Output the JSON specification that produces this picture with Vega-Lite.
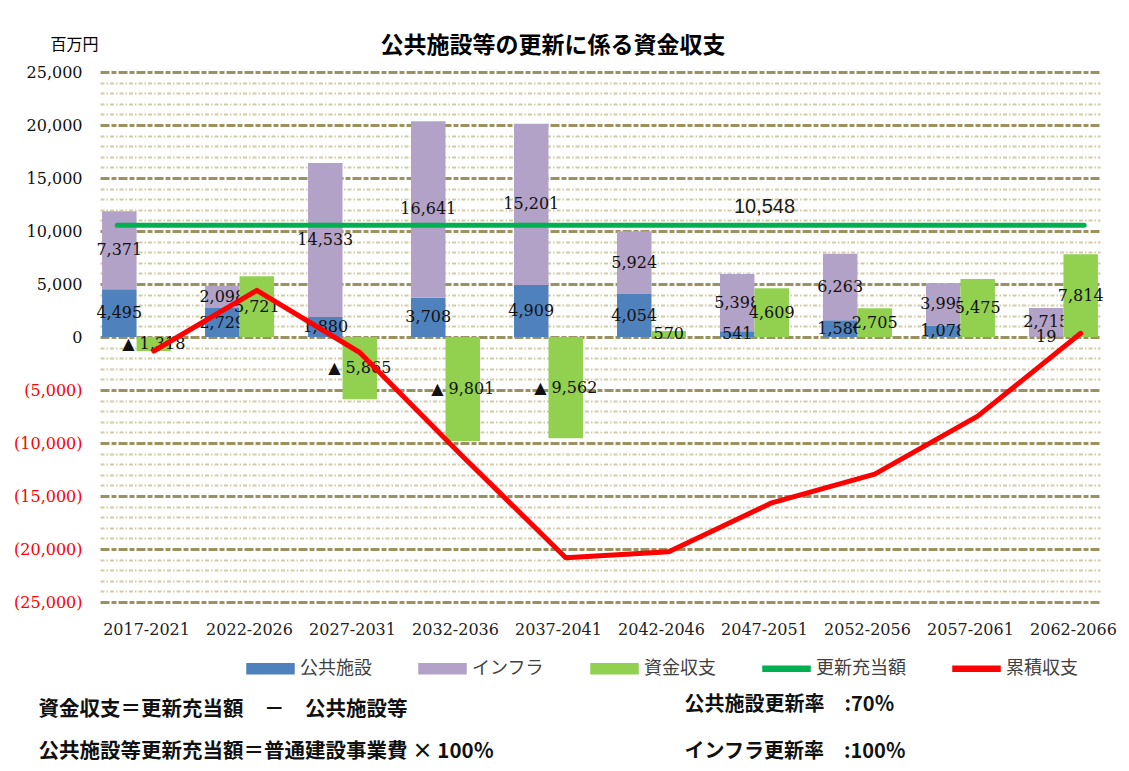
{
  "$schema": "https://vega.github.io/schema/vega-lite/v6.json",
  "width": 1000,
  "height": 530,
  "autosize": {"type": "none"},
  "padding": {"left": 100, "top": 72, "right": 29, "bottom": 169},
  "background": "white",
  "title": {
    "text": "公共施設等の更新に係る資金収支",
    "font": "Noto Sans CJK JP",
    "fontSize": 23,
    "fontWeight": "bold",
    "color": "#000000",
    "anchor": "middle",
    "dx": -47,
    "dy": 26,
    "offset": 4
  },
  "config": {
    "view": {"stroke": null},
    "axis": {"domain": false, "ticks": false, "tickSize": 0}
  },
  "datasets": {
    "costs": [
      {"period": "2017-2021", "series": "公共施設", "value": 4495},
      {"period": "2017-2021", "series": "インフラ", "value": 7371},
      {"period": "2022-2026", "series": "公共施設", "value": 2729},
      {"period": "2022-2026", "series": "インフラ", "value": 2098},
      {"period": "2027-2031", "series": "公共施設", "value": 1880},
      {"period": "2027-2031", "series": "インフラ", "value": 14533},
      {"period": "2032-2036", "series": "公共施設", "value": 3708},
      {"period": "2032-2036", "series": "インフラ", "value": 16641},
      {"period": "2037-2041", "series": "公共施設", "value": 4909},
      {"period": "2037-2041", "series": "インフラ", "value": 15201},
      {"period": "2042-2046", "series": "公共施設", "value": 4054},
      {"period": "2042-2046", "series": "インフラ", "value": 5924},
      {"period": "2047-2051", "series": "公共施設", "value": 541},
      {"period": "2047-2051", "series": "インフラ", "value": 5398},
      {"period": "2052-2056", "series": "公共施設", "value": 1580},
      {"period": "2052-2056", "series": "インフラ", "value": 6263},
      {"period": "2057-2061", "series": "公共施設", "value": 1078},
      {"period": "2057-2061", "series": "インフラ", "value": 3995},
      {"period": "2062-2066", "series": "公共施設", "value": 19},
      {"period": "2062-2066", "series": "インフラ", "value": 2715}
    ],
    "balance": [
      {"period": "2017-2021", "balance": -1318, "cumulative": -1318},
      {"period": "2022-2026", "balance": 5721, "cumulative": 4403},
      {"period": "2027-2031", "balance": -5865, "cumulative": -1462},
      {"period": "2032-2036", "balance": -9801, "cumulative": -11263},
      {"period": "2037-2041", "balance": -9562, "cumulative": -20825},
      {"period": "2042-2046", "balance": 570, "cumulative": -20255},
      {"period": "2047-2051", "balance": 4609, "cumulative": -15646},
      {"period": "2052-2056", "balance": 2705, "cumulative": -12941},
      {"period": "2057-2061", "balance": 5475, "cumulative": -7466},
      {"period": "2062-2066", "balance": 7814, "cumulative": 348}
    ],
    "renewal": [
      {"first": "2017-2021", "last": "2062-2066", "labelPeriod": "2047-2051", "amount": 10548}
    ]
  },
  "resolve": {"axis": {"y": "independent"}},
  "layer": [
    {
      "data": {"name": "costs"},
      "transform": [
        {"calculate": "datum.series === '公共施設' ? 0 : 1", "as": "rank"},
        {"stack": "value", "groupby": ["period"], "sort": [{"field": "rank"}], "as": ["y0", "y1"]}
      ],
      "mark": {"type": "bar"},
      "encoding": {
        "x": {
          "field": "period",
          "type": "nominal",
          "sort": null,
          "scale": {"type": "band", "paddingInner": 0.33, "paddingOuter": 0.02},
          "axis": {
            "labelAngle": 0,
            "labelFont": "DejaVu Serif",
            "labelFontSize": 16,
            "labelColor": "#222222",
            "labelOffset": 10,
            "labelPadding": 19,
            "grid": false,
            "title": ["資金収支＝更新充当額　－　公共施設等", "公共施設等更新充当額＝普通建設事業費 × 100％"],
            "titleFont": "Noto Sans CJK JP",
            "titleFontSize": 20.5,
            "titleFontWeight": "bold",
            "titleColor": "#111111",
            "titleAlign": "left",
            "titleBaseline": "top",
            "titleX": -62,
            "titleY": 97,
            "titleLineHeight": 42
          }
        },
        "xOffset": {"datum": "施設", "scale": {"domain": ["施設", "収支"], "paddingInner": 0, "paddingOuter": 0}},
        "y": {
          "field": "y1",
          "type": "quantitative",
          "scale": {"domain": [-25000, 25000], "nice": false},
          "axis": {
            "orient": "left",
            "values": [-25000,-24000,-23000,-22000,-21000,-20000,-19000,-18000,-17000,-16000,-15000,-14000,-13000,-12000,-11000,-10000,-9000,-8000,-7000,-6000,-5000,-4000,-3000,-2000,-1000,0,1000,2000,3000,4000,5000,6000,7000,8000,9000,10000,11000,12000,13000,14000,15000,16000,17000,18000,19000,20000,21000,22000,23000,24000,25000],
            "labelExpr": "datum.value % 5000 !== 0 ? '' : (datum.value < 0 ? '(' + format(-datum.value, ',') + ')' : format(datum.value, ','))",
            "labelFont": "DejaVu Serif",
            "labelFontSize": 16,
            "labelColor": {"condition": {"test": "datum.value < 0", "value": "#FF0000"}, "value": "#111111"},
            "labelPadding": 18,
            "grid": true,
            "gridColor": {"condition": {"test": "datum.value % 5000 === 0", "value": "#9C9160"}, "value": "#D3CBA8"},
            "gridDash": {"condition": {"test": "datum.value % 5000 === 0", "value": [9, 2, 5, 2]}, "value": [4, 2, 1.5, 2]},
            "gridWidth": {"condition": {"test": "datum.value % 5000 === 0", "value": 2.8}, "value": 2},
            "title": "百万円",
            "titleAngle": 0,
            "titleX": -26,
            "titleY": -28,
            "titleAlign": "center",
            "titleBaseline": "middle",
            "titleFont": "Noto Sans CJK JP",
            "titleFontSize": 16,
            "titleFontWeight": "normal",
            "titleColor": "#000000"
          }
        },
        "y2": {"field": "y0"},
        "color": {
          "field": "series",
          "type": "nominal",
          "scale": {
            "domain": ["公共施設", "インフラ", "資金収支", "更新充当額", "累積収支"],
            "range": ["#4F81BD", "#B3A2C7", "#92D050", "#00B050", "#FF0000"]
          },
          "legend": {
            "orient": "none",
            "legendX": 146,
            "legendY": 572,
            "direction": "horizontal",
            "columns": 5,
            "title": null,
            "padding": 0,
            "symbolSize": 2209,
            "labelFont": "Noto Sans CJK JP",
            "labelFontSize": 18,
            "labelColor": "#404040",
            "labelOffset": 5,
            "columnPadding": 44,
            "encode": {
              "symbols": {
                "update": {
                  "shape": {"signal": "(datum.value === '更新充当額' || datum.value === '累積収支') ? 'M-1,-0.11H1V0.11H-1Z' : 'M-1,-0.21H1V0.21H-1Z'"},
                  "fill": {"scale": "color", "field": "value"},
                  "stroke": {"value": "transparent"},
                  "opacity": {"value": 1},
                  "fillOpacity": {"value": 1}
                }
              }
            }
          }
        }
      }
    },
    {
      "data": {"name": "costs"},
      "transform": [
        {"calculate": "datum.series === '公共施設' ? 0 : 1", "as": "rank"},
        {"stack": "value", "groupby": ["period"], "sort": [{"field": "rank"}], "as": ["y0", "y1"]},
        {"calculate": "(datum.y0 + datum.y1) / 2", "as": "mid"}
      ],
      "mark": {"type": "text", "font": "DejaVu Serif", "fontSize": 16, "color": "#111111", "baseline": "middle", "align": "center"},
      "encoding": {
        "x": {"field": "period", "type": "nominal", "sort": null, "bandPosition": 0.25},
        "y": {"field": "mid", "type": "quantitative", "axis": null},
        "text": {"field": "value", "type": "quantitative", "format": ","}
      }
    },
    {
      "data": {"name": "balance"},
      "mark": {"type": "bar"},
      "encoding": {
        "x": {"field": "period", "type": "nominal", "sort": null},
        "xOffset": {"datum": "収支"},
        "y": {"field": "balance", "type": "quantitative", "axis": null},
        "color": {"datum": "資金収支"}
      }
    },
    {
      "data": {"name": "balance"},
      "transform": [
        {"calculate": "datum.balance / 2", "as": "mid"},
        {"calculate": "(datum.balance < 0 ? '▲ ' : '') + format(abs(datum.balance), ',')", "as": "label"}
      ],
      "mark": {"type": "text", "font": "DejaVu Serif", "fontSize": 16, "color": "#111111", "baseline": "middle", "align": "center"},
      "encoding": {
        "x": {"field": "period", "type": "nominal", "sort": null, "bandPosition": 0.75},
        "y": {"field": "mid", "type": "quantitative", "axis": null},
        "text": {"field": "label", "type": "nominal"}
      }
    },
    {
      "data": {"name": "renewal"},
      "mark": {"type": "rule", "strokeWidth": 5, "strokeCap": "round"},
      "encoding": {
        "x": {"field": "first", "type": "nominal", "bandPosition": 0.22},
        "x2": {"field": "last", "bandPosition": 0.8},
        "y": {"field": "amount", "type": "quantitative", "axis": null},
        "color": {"datum": "更新充当額"}
      }
    },
    {
      "data": {"name": "renewal"},
      "mark": {"type": "text", "font": "Liberation Sans", "fontSize": 20, "color": "#1A1A1A", "baseline": "middle", "align": "center", "dx": 10, "dy": -18},
      "encoding": {
        "x": {"field": "labelPeriod", "type": "nominal"},
        "y": {"field": "amount", "type": "quantitative", "axis": null},
        "text": {"field": "amount", "type": "quantitative", "format": ","}
      }
    },
    {
      "data": {"name": "balance"},
      "mark": {"type": "line", "strokeWidth": 5, "strokeCap": "round", "strokeJoin": "round"},
      "encoding": {
        "x": {"field": "period", "type": "nominal", "sort": null, "bandPosition": 0.75},
        "y": {
          "field": "cumulative",
          "type": "quantitative",
          "axis": {
            "orient": "right",
            "grid": false,
            "labels": false,
            "ticks": false,
            "domain": false,
            "title": ["公共施設更新率　:70％", "\u00a0\u00a0インフラ更新率　:100％"],
            "titleAngle": 0,
            "titleX": -416,
            "titleY": 622,
            "titleAlign": "left",
            "titleBaseline": "top",
            "titleLineHeight": 47,
            "titleFont": "Noto Sans CJK JP",
            "titleFontSize": 20,
            "titleFontWeight": "bold",
            "titleColor": "#111111"
          }
        },
        "color": {"datum": "累積収支"}
      }
    }
  ]
}
